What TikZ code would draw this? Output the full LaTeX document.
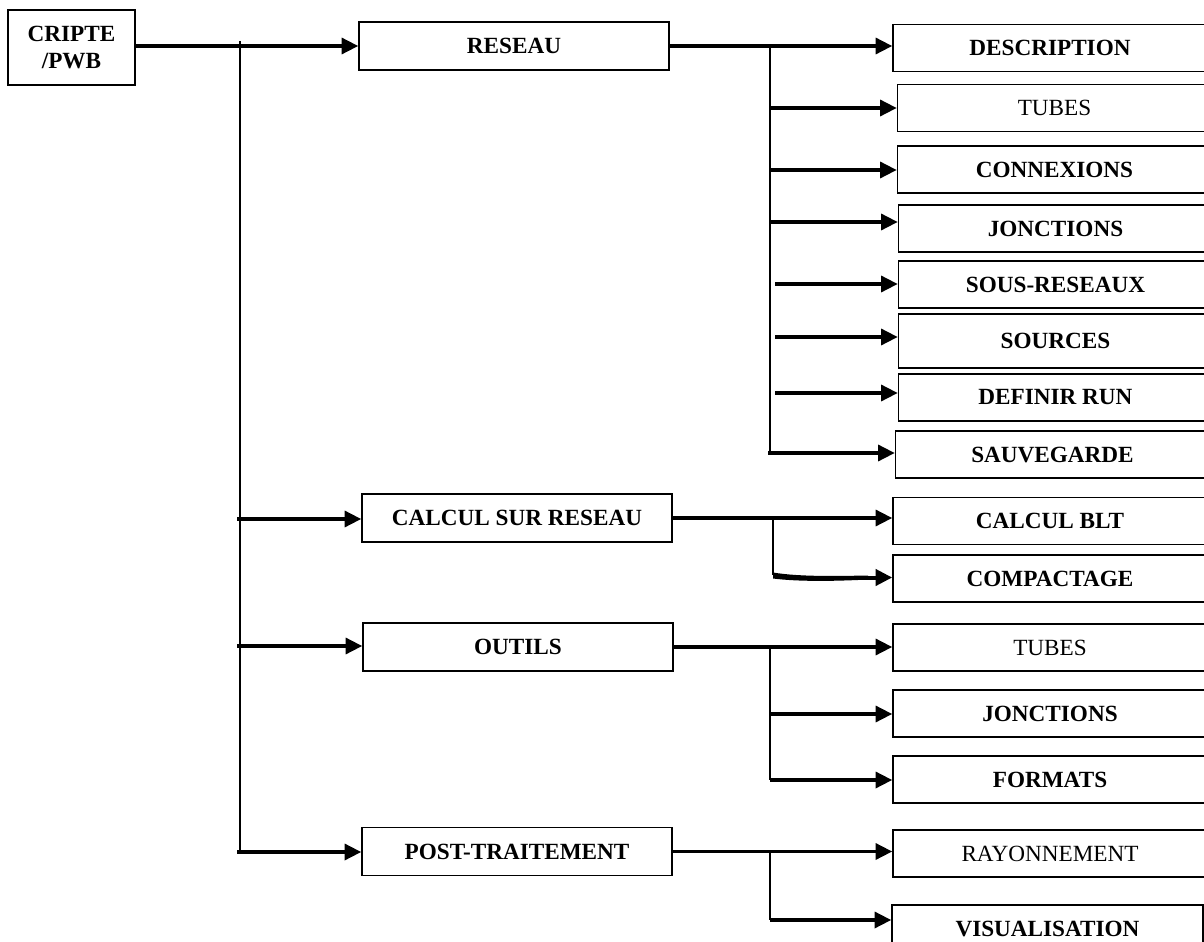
\documentclass[tikz,border=0pt]{standalone}
\usepackage{fontspec}
\setmainfont{Liberation Serif}
\usetikzlibrary{arrows.meta}
\begin{document}
\begin{tikzpicture}[x=0.75pt,y=-0.75pt,
  box/.style={draw, line width=1.1pt, inner sep=0pt, align=center,
    font=\fontsize{17.4}{20}\selectfont\bfseries},
  plain/.style={font=\fontsize{17.4}{20}\selectfont\mdseries},
  main/.style={box, minimum width=232.5pt, minimum height=36pt},
  leaf/.style={box, minimum width=235.5pt, minimum height=35.25pt},
  tip/.style={-{Triangle[length=12.5pt,width=12pt]}},
  arr/.style={line width=2.5pt, tip},
  trunk/.style={line width=1.3pt},
  link/.style={line width=2.5pt}]
\useasboundingbox (0,0) rectangle (1204,942);
\clip (0,0) rectangle (1204,942);

% root and first level
\node[box, minimum width=95.25pt, minimum height=56.25pt] (root) at (71.5,47.5) {CRIPTE\\/PWB};
\node[main] (reseau) at (514,46) {RESEAU};
\node[main] (calcul) at (517,518) {CALCUL SUR RESEAU};
\node[main] (outils) at (518,647) {OUTILS};
\node[main] (post) at (517,851.5) {POST-TRAITEMENT};

% second level: RESEAU
\node[leaf] (desc) at (1050,48) {DESCRIPTION};
\node[leaf, plain] (tubesA) at (1054.5,108) {TUBES};
\node[leaf] (connex) at (1054.5,169.5) {CONNEXIONS};
\node[leaf] (joncA) at (1055.5,228.5) {JONCTIONS};
\node[leaf] (sousres) at (1055.5,284.5) {SOUS-RESEAUX};
\node[leaf, minimum height=40.5pt] (sources) at (1055.5,341) {SOURCES};
\node[leaf] (defrun) at (1055.5,397.5) {DEFINIR RUN};
\node[leaf] (sauve) at (1052.5,454.5) {SAUVEGARDE};

% second level: CALCUL SUR RESEAU
\node[leaf] (blt) at (1050,521) {CALCUL BLT};
\node[leaf] (compact) at (1050,578.5) {COMPACTAGE};

% second level: OUTILS
\node[leaf, plain] (tubesB) at (1050,647.5) {TUBES};
\node[leaf] (joncB) at (1050,713.5) {JONCTIONS};
\node[leaf] (formats) at (1050,779.5) {FORMATS};

% second level: POST-TRAITEMENT
\node[leaf, plain] (rayon) at (1050,853.5) {RAYONNEMENT};
\node[leaf, minimum width=233.25pt] (visu) at (1047.5,928.5) {VISUALISATION};

% main trunk
\coordinate (mt0) at (240,41);
\coordinate (mt1) at (237,519);
\coordinate (mt2) at (237,646);
\coordinate (mt3) at (237,852);
\draw[trunk] (mt0) -- (240,852);
\draw[arr] (root.east |- reseau.west) -- (reseau.west);
\draw[arr] (mt1) -- (mt1 -| calcul.west);
\draw[arr] (mt2) -- (mt2 -| outils.west);
\draw[arr] (mt3) -- (mt3 -| post.west);

% RESEAU branch
\coordinate (ra) at (770,46);
\coordinate (r1) at (770,108);
\coordinate (r2) at (770,170);
\coordinate (r3) at (770,222);
\coordinate (r4) at (775,284);
\coordinate (r5) at (775,337);
\coordinate (r6) at (775,393);
\coordinate (r7) at (768,453);
\draw[trunk] (ra) -- (770,455);
\draw[arr] (reseau.east) -- (reseau.east -| desc.west);
\draw[arr] (r1) -- (r1 -| tubesA.west);
\draw[arr] (r2) -- (r2 -| connex.west);
\draw[arr] (r3) -- (r3 -| joncA.west);
\draw[arr] (r4) -- (r4 -| sousres.west);
\draw[arr] (r5) -- (r5 -| sources.west);
\draw[arr] (r6) -- (r6 -| defrun.west);
\draw[arr] (r7) -- (r7 -| sauve.west);

% CALCUL SUR RESEAU branch
\coordinate (ca) at (773,519);
\coordinate (cb) at (773,575);
\draw[trunk] (ca) -- (cb);
\draw[arr] (calcul.east) -- (calcul.east -| blt.west);
\fill (cb) ++(0,-2.5) .. controls (800,577) and (840,576) .. (868,575.5)
  -- (868,579.5) .. controls (840,581) and (800,582) .. (773,578.5) -- cycle;
\draw[line width=3pt, tip] (860,577.5) -- (compact.west |- 0,577.5);

% OUTILS branch
\coordinate (oa) at (770,647);
\coordinate (o1) at (770,714);
\coordinate (o2) at (770,780);
\draw[trunk] (oa) -- (o2);
\draw[arr] (outils.east) -- (outils.east -| tubesB.west);
\draw[arr] (o1) -- (o1 -| joncB.west);
\draw[arr] (o2) -- (o2 -| formats.west);

% POST-TRAITEMENT branch
\coordinate (pa) at (770,853);
\coordinate (p1) at (770,920);
\draw[trunk] (pa) -- (p1);
\draw[arr] (post.east) -- (post.east -| rayon.west);
\draw[arr] (p1) -- (p1 -| visu.west);
\end{tikzpicture}
\end{document}
